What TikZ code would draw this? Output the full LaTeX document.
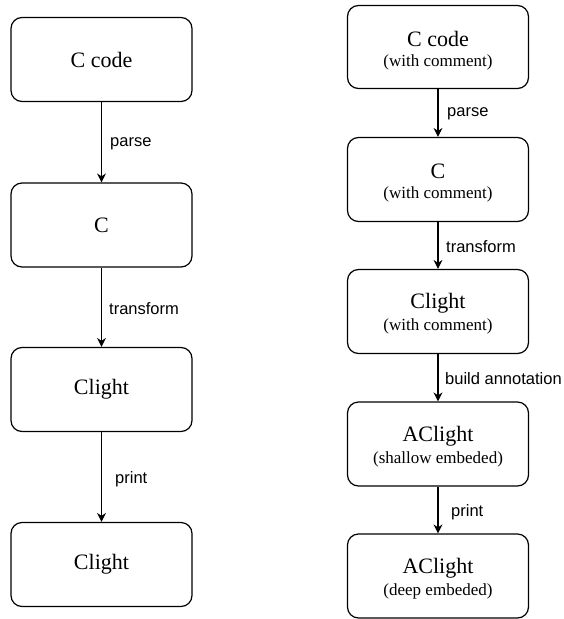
\documentclass[tikz,border=0pt]{standalone}
\usepackage{fontspec}
\setmainfont{Liberation Serif}
\newfontfamily\lblfont{Liberation Sans}
\usetikzlibrary{arrows.meta}
\begin{document}
\begin{tikzpicture}[x=1pt,y=-1pt,
  box/.style={draw, line width=1.2pt, rounded corners=11pt, minimum width=181pt, minimum height=84pt, inner sep=0pt, align=center, font=\fontsize{22}{24}\selectfont},
  maintxt/.style={inner sep=0pt, font=\fontsize{22}{24}\selectfont},
  subtxt/.style={inner sep=0pt, font=\fontsize{17}{19}\selectfont},
  conn/.style={draw, line width=1.2pt, -{Stealth[length=9pt,width=9pt]}},
  lbl/.style={anchor=west, inner sep=0pt, font=\lblfont\fontsize{16.5}{18}\selectfont}]
\useasboundingbox (0,0) rectangle (563,619);
% left column
\node[box] (l1) at (101.5,59.5) {C code};
\node[box] (l2) at (101.5,225) {C};
\node[box] (l3) at (101.5,389.5) {Clight};
\node[box] (l4) at (101.5,564.5) {Clight};
\draw[conn] (l1) -- (l2);
\draw[conn] (l2) -- (l3);
\draw[conn] (l3) -- (l4);
\node[lbl] (tl1) at (110,144) {parse};
\node[lbl] (tl2) at (109,309) {transform};
\node[lbl] (tl3) at (115,479) {print};
% right column
\node[box, minimum height=83pt] (r1) at (438,47) {};
\node[box] (r2) at (438,179.5) {};
\node[box] (r3) at (438,311.5) {};
\node[box] (r4) at (438,444) {};
\node[box] (r5) at (438,576) {};
\node[maintxt] (m1) at ([yshift=8pt]r1.center) {C code};
\node[subtxt]  (s1) at ([yshift=-15pt]r1.center) {(with comment)};
\node[maintxt] (m2) at ([yshift=8pt]r2.center) {C};
\node[subtxt]  (s2) at ([yshift=-15pt]r2.center) {(with comment)};
\node[maintxt] (m3) at ([yshift=8pt]r3.center) {Clight};
\node[subtxt]  (s3) at ([yshift=-15pt]r3.center) {(with comment)};
\node[maintxt] (m4) at ([yshift=8pt]r4.center) {AClight};
\node[subtxt]  (s4) at ([yshift=-15pt]r4.center) {(shallow embeded)};
\node[maintxt] (m5) at ([yshift=8pt]r5.center) {AClight};
\node[subtxt]  (s5) at ([yshift=-15pt]r5.center) {(deep embeded)};
\draw[conn] (r1) -- (r2);
\draw[conn] (r2) -- (r3);
\draw[conn] (r3) -- (r4);
\draw[conn] (r4) -- (r5);
\node[lbl] (tr1) at (447,114) {parse};
\node[lbl] (tr2) at (446,247) {transform};
\node[lbl] (tr3) at (445,379) {build annotation};
\node[lbl] (tr4) at (451,512) {print};
\end{tikzpicture}
\end{document}
